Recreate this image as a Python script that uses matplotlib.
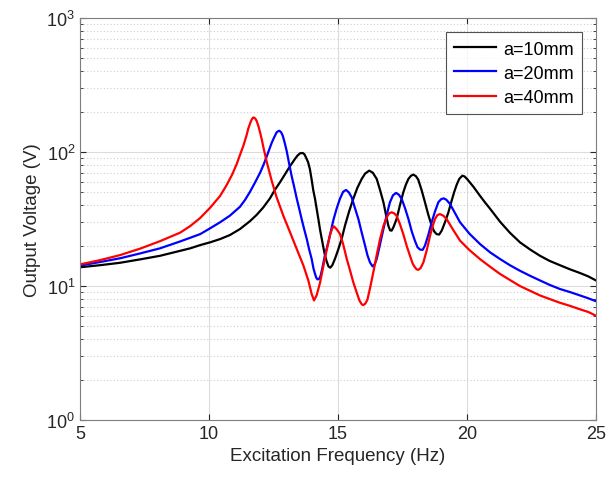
import numpy as np
import matplotlib
matplotlib.use("Agg")
import matplotlib.pyplot as plt

plt.rcParams['font.family'] = ['Liberation Sans', 'DejaVu Sans']
plt.rcParams['mathtext.fontset'] = 'custom'
plt.rcParams['mathtext.rm'] = 'Liberation Sans'

# values (frequency in Hz, voltage in V)
f_10mm = [5.0, 5.78, 6.55, 7.33, 8.1, 8.88, 9.27, 9.66, 10.05, 10.43, 10.81, 11.2,
          11.59, 11.85, 12.1, 12.36, 12.55, 12.75, 12.92, 13.07, 13.2, 13.33, 13.43,
          13.53, 13.63, 13.7, 13.76, 13.84, 13.91, 13.98, 14.04, 14.11, 14.17, 14.24,
          14.3, 14.37, 14.47, 14.55, 14.63, 14.7, 14.78, 14.88, 15.0, 15.14, 15.27,
          15.43, 15.59, 15.75, 15.92, 16.05, 16.21, 16.35, 16.5, 16.63, 16.76, 16.86,
          16.95, 17.02, 17.08, 17.15, 17.27, 17.4, 17.53, 17.63, 17.73, 17.83, 17.92,
          18.02, 18.11, 18.24, 18.37, 18.5, 18.63, 18.73, 18.82, 18.92, 19.02, 19.15,
          19.28, 19.4, 19.5, 19.6, 19.7, 19.82, 19.9, 20.0, 20.12, 20.25, 20.5, 20.7,
          20.9, 21.1, 21.28, 21.66, 22.05, 22.45, 22.83, 23.2, 23.6, 24.0, 24.38,
          24.7, 25.0]
v_10mm = [13.8, 14.3, 14.9, 15.8, 16.8, 18.3, 19.1, 20.2, 21.2, 22.4, 24.0, 26.6,
          30.5, 34.0, 38.5, 45.0, 52.0, 59.4, 67.0, 74.6, 81.5, 88.7, 94.0,
          97.8, 98.4, 96.0, 91.0, 84.0, 74.6, 62.0, 52.0, 44.6, 38.0, 31.5,
          26.6, 22.5, 17.8, 15.5, 14.0, 13.7, 14.3, 15.9, 18.5, 22.4, 28.2,
          36.0, 44.6, 54.0, 63.0, 69.0, 72.6, 70.0, 63.0, 52.0, 42.2, 34.0,
          28.2, 26.0, 25.9, 27.5, 31.6, 40.0, 50.0, 57.0, 63.0, 66.5, 67.8,
          66.0, 62.2, 52.0, 42.2, 34.0, 28.2, 25.5, 24.4, 24.2, 25.9, 30.0,
          35.5, 43.0, 50.0, 57.0, 63.0, 66.6, 65.8, 63.0, 59.0, 55.0, 47.2, 42.0,
          37.6, 33.5, 30.2, 25.0, 21.2, 18.7, 16.8, 15.4, 14.3, 13.3, 12.5,
          11.8, 11.0]

f_20mm = [5.0, 5.78, 6.55, 7.33, 8.1, 8.88, 9.27, 9.66, 10.05, 10.43, 10.81, 11.2,
          11.4, 11.59, 11.78, 11.98, 12.11, 12.24, 12.34, 12.43, 12.52, 12.62, 12.68,
          12.73, 12.8, 12.86, 12.93, 13.01, 13.1, 13.2, 13.3, 13.4, 13.5, 13.59, 13.69,
          13.79, 13.88, 13.98, 14.05, 14.11, 14.16, 14.21, 14.27, 14.33, 14.4, 14.48,
          14.56, 14.63, 14.72, 14.82, 14.95, 15.08, 15.2, 15.31, 15.42, 15.53, 15.66,
          15.79, 15.92, 16.05, 16.14, 16.24, 16.34, 16.42, 16.5, 16.63, 16.76, 16.89,
          17.01, 17.13, 17.25, 17.36, 17.47, 17.6, 17.73, 17.86, 17.98, 18.08, 18.18,
          18.28, 18.37, 18.5, 18.63, 18.76, 18.89, 19.0, 19.1, 19.2, 19.34, 19.5,
          19.73, 20.1, 20.5, 20.9, 21.28, 21.66, 22.05, 22.45, 22.83, 23.2, 23.6,
          24.0, 24.38, 24.7, 25.0]
v_20mm = [14.2, 15.1, 16.1, 17.5, 19.1, 21.5, 22.9, 24.4, 27.0, 29.9, 33.5, 39.0,
          44.0, 50.5, 59.0, 70.0, 80.0, 93.0, 105.0, 117.0, 128.0, 140.0, 143.0,
          144.0, 140.0, 132.0, 118.0, 102.0, 83.0, 66.6, 55.0, 45.0, 37.5, 31.6, 26.5,
          22.4, 18.8, 15.9, 13.5, 12.3, 11.5, 11.2, 11.3, 12.0, 13.8, 16.5,
          19.0, 21.5, 25.5, 31.0, 38.0, 45.0, 50.5, 52.1, 50.0, 45.9, 38.0,
          31.6, 25.0, 20.0, 17.0, 15.0, 14.0, 14.5, 15.9, 20.5, 26.6, 34.0,
          42.0, 47.5, 49.5, 48.0, 44.6, 38.0, 31.6, 25.5, 21.8, 19.5, 18.7,
          18.6, 20.0, 24.0, 29.9, 36.0, 42.2, 44.5, 45.1, 44.0, 41.0, 36.0,
          29.9, 24.5, 20.6, 17.8, 15.9, 14.3, 13.0, 11.9, 11.0, 10.2, 9.5,
          9.0, 8.5, 8.1, 7.7]

f_40mm = [5.0, 5.78, 6.55, 7.33, 8.1, 8.88, 9.27, 9.66, 10.05, 10.43, 10.68, 10.9,
          11.07, 11.2, 11.33, 11.45, 11.52, 11.6, 11.65, 11.7, 11.74, 11.8, 11.85,
          11.92, 11.98, 12.05, 12.11, 12.24, 12.43, 12.62, 12.88, 13.14, 13.4, 13.66,
          13.85, 13.98, 14.07, 14.17, 14.3, 14.43, 14.56, 14.69, 14.78, 14.84, 14.95,
          15.08, 15.2, 15.34, 15.47, 15.59, 15.72, 15.83, 15.92, 15.98, 16.06, 16.14,
          16.25, 16.37, 16.5, 16.63, 16.76, 16.89, 16.98, 17.08, 17.18, 17.27, 17.4,
          17.53, 17.66, 17.79, 17.9, 17.98, 18.05, 18.11, 18.2, 18.31, 18.44, 18.57,
          18.67, 18.76, 18.85, 18.95, 19.08, 19.21, 19.45, 19.73, 20.1, 20.5, 20.9,
          21.28, 21.66, 22.05, 22.45, 22.83, 23.2, 23.6, 24.0, 24.38, 24.7, 25.0]
v_40mm = [14.5, 15.6, 17.0, 19.0, 21.6, 25.0, 28.0, 32.2, 38.5, 47.0, 56.5, 68.0,
          81.0, 95.0, 111.0, 132.0, 149.0, 165.0, 174.0, 180.0, 181.0, 177.0, 170.0,
          155.0, 140.0, 123.0, 108.0, 84.0, 61.0, 46.0, 33.5, 25.2, 18.9, 14.2,
          11.0, 8.7, 7.8, 8.5, 10.5, 14.0, 18.5, 24.0, 27.0, 27.9, 26.5,
          24.4, 20.5, 15.9, 13.0, 10.7, 9.0, 7.8, 7.3, 7.2, 7.4, 7.9,
          9.8, 12.7, 17.0, 22.4, 28.0, 32.6, 34.8, 35.5, 34.8, 33.5, 29.0,
          24.4, 20.0, 16.8, 14.6, 13.8, 13.3, 13.2, 13.6, 15.0, 18.5, 23.8,
          28.0, 31.6, 33.8, 34.4, 33.5, 31.6, 26.5, 21.8, 18.5, 15.9, 13.9,
          12.3, 11.1, 10.0, 9.2, 8.5, 8.0, 7.5, 7.1, 6.7, 6.4, 6.0]

labels = ['a=10mm', 'a=20mm', 'a=40mm']
colors = ['black', '#0000ff', '#ff0000']

fig = plt.figure(figsize=(6.13, 4.81), dpi=100)
ax = fig.add_axes([80/613, 1 - 421/481, 516/613, 402/481])

for f, v, lab, c in zip([f_10mm, f_20mm, f_40mm], [v_10mm, v_20mm, v_40mm], labels, colors):
    ax.plot(f, v, color=c, lw=1.6, label=lab, solid_joinstyle='round')

ax.set_yscale('log')
ax.set_xlim(5, 25)
ax.set_ylim(1, 1000)
ax.set_xticks([5, 10, 15, 20, 25])

ax.grid(True, which='major', color='#dcdcdc', lw=0.8)
ax.grid(True, which='minor', axis='y', color='#cfcfcf', lw=0.8, ls=(0, (1, 2)))
ax.set_axisbelow(True)

ax.tick_params(which='both', direction='in', top=True, right=True, colors='#262626',
               labelsize=13)
ax.tick_params(which='major', length=4)
ax.tick_params(which='minor', length=2)
for s in ax.spines.values():
    s.set_color('#7f7f7f')
    s.set_linewidth(0.8)

ax.set_xlabel('Excitation Frequency (Hz)', fontsize=13.5, color='#262626')
ax.set_ylabel('Output Voltage (V)', fontsize=13.5, color='#262626')

leg = ax.legend(loc='upper right', fontsize=13, frameon=True, fancybox=False,
                edgecolor='#262626', handlelength=2.3, borderaxespad=0.8,
                labelspacing=0.4, handletextpad=0.4, borderpad=0.45)
leg.get_frame().set_linewidth(0.8)

fig.savefig('out.png', dpi=100)
